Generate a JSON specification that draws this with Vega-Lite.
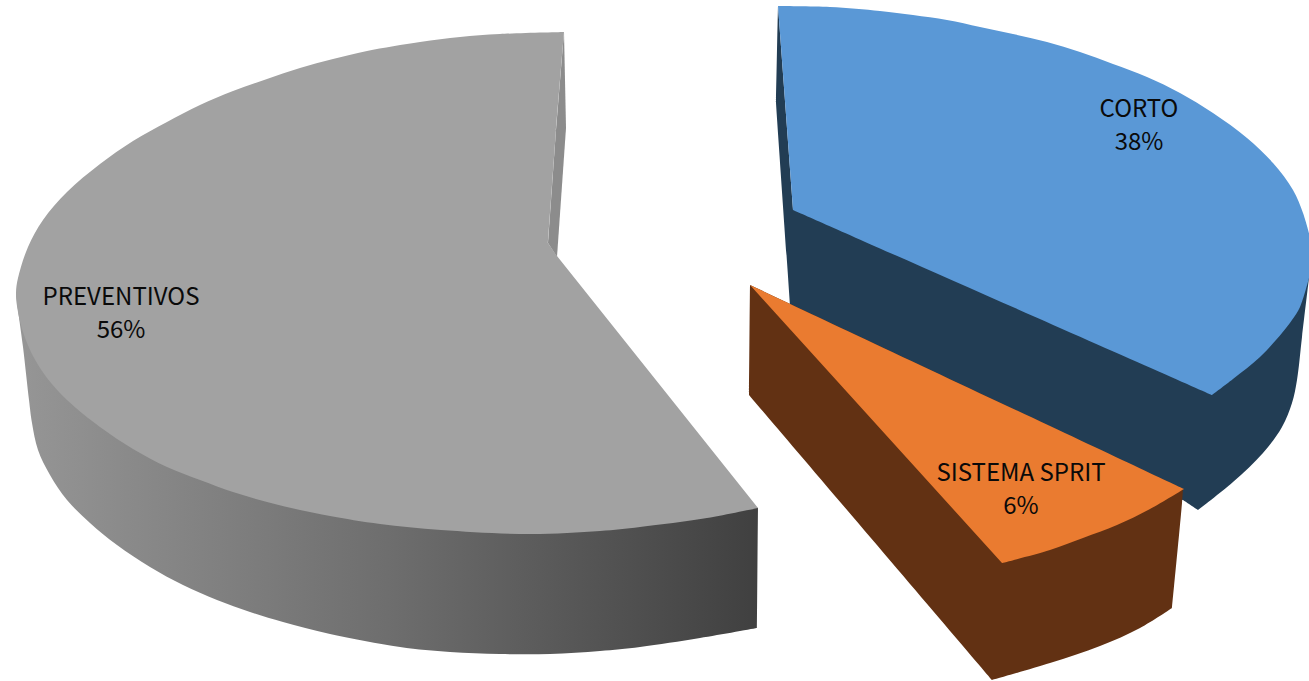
{"$schema":"https://vega.github.io/schema/vega-lite/v6.json","width":1309,"height":681,"padding":0,"autosize":{"type":"fit","contains":"padding"},"background":"white","view":{"stroke":null},
"datasets":{
"outline":[
{"part":"preventivos-side","i":1,"x":16,"y":293},{"part":"preventivos-side","i":2,"x":18,"y":310},{"part":"preventivos-side","i":3,"x":23,"y":347},{"part":"preventivos-side","i":4,"x":29,"y":400},{"part":"preventivos-side","i":5,"x":32,"y":423},{"part":"preventivos-side","i":6,"x":38,"y":450},{"part":"preventivos-side","i":7,"x":50,"y":475},{"part":"preventivos-side","i":8,"x":67,"y":500},{"part":"preventivos-side","i":9,"x":90,"y":523},{"part":"preventivos-side","i":10,"x":117,"y":545},{"part":"preventivos-side","i":11,"x":150,"y":567},{"part":"preventivos-side","i":12,"x":183,"y":585},{"part":"preventivos-side","i":13,"x":217,"y":600},{"part":"preventivos-side","i":14,"x":250,"y":612},{"part":"preventivos-side","i":15,"x":283,"y":622},{"part":"preventivos-side","i":16,"x":330,"y":634},{"part":"preventivos-side","i":17,"x":400,"y":647},{"part":"preventivos-side","i":18,"x":450,"y":652},{"part":"preventivos-side","i":19,"x":500,"y":654},{"part":"preventivos-side","i":20,"x":550,"y":654},{"part":"preventivos-side","i":21,"x":600,"y":651},{"part":"preventivos-side","i":22,"x":640,"y":647},{"part":"preventivos-side","i":23,"x":700,"y":638},{"part":"preventivos-side","i":24,"x":757,"y":628},{"part":"preventivos-side","i":24.5,"x":757,"y":628},{"part":"preventivos-side","i":25,"x":758,"y":508},{"part":"preventivos-side","i":25.5,"x":758,"y":508},{"part":"preventivos-side","i":26,"x":500,"y":400},
{"part":"preventivos-inner","i":1,"x":564,"y":32},{"part":"preventivos-inner","i":2,"x":566,"y":128},{"part":"preventivos-inner","i":3,"x":557,"y":257},{"part":"preventivos-inner","i":4,"x":548,"y":243},{"part":"preventivos-inner","i":5,"x":556,"y":130},
{"part":"preventivos-top","i":1,"x":557,"y":256},{"part":"preventivos-top","i":2,"x":548,"y":243},{"part":"preventivos-top","i":2.5,"x":548,"y":243},{"part":"preventivos-top","i":3,"x":556,"y":130},{"part":"preventivos-top","i":3.5,"x":556,"y":130},{"part":"preventivos-top","i":4,"x":564,"y":32},{"part":"preventivos-top","i":4.5,"x":564,"y":32},{"part":"preventivos-top","i":5,"x":500,"y":34},{"part":"preventivos-top","i":6,"x":460,"y":37},{"part":"preventivos-top","i":7,"x":420,"y":42},{"part":"preventivos-top","i":8,"x":367,"y":51},{"part":"preventivos-top","i":9,"x":333,"y":59},{"part":"preventivos-top","i":10,"x":300,"y":68},{"part":"preventivos-top","i":11,"x":267,"y":79},{"part":"preventivos-top","i":12,"x":233,"y":91},{"part":"preventivos-top","i":13,"x":200,"y":105},{"part":"preventivos-top","i":14,"x":167,"y":122},{"part":"preventivos-top","i":15,"x":133,"y":141},{"part":"preventivos-top","i":16,"x":100,"y":164},{"part":"preventivos-top","i":17,"x":67,"y":192},{"part":"preventivos-top","i":18,"x":43,"y":220},{"part":"preventivos-top","i":19,"x":28,"y":247},{"part":"preventivos-top","i":20,"x":18,"y":278},{"part":"preventivos-top","i":21,"x":16,"y":293},{"part":"preventivos-top","i":22,"x":18,"y":312},{"part":"preventivos-top","i":23,"x":24,"y":335},{"part":"preventivos-top","i":24,"x":33,"y":356},{"part":"preventivos-top","i":25,"x":47,"y":378},{"part":"preventivos-top","i":26,"x":67,"y":400},{"part":"preventivos-top","i":27,"x":100,"y":427},{"part":"preventivos-top","i":28,"x":133,"y":449},{"part":"preventivos-top","i":29,"x":167,"y":467},{"part":"preventivos-top","i":30,"x":200,"y":480},{"part":"preventivos-top","i":31,"x":233,"y":492},{"part":"preventivos-top","i":32,"x":267,"y":502},{"part":"preventivos-top","i":33,"x":300,"y":510},{"part":"preventivos-top","i":34,"x":330,"y":516},{"part":"preventivos-top","i":35,"x":380,"y":524},{"part":"preventivos-top","i":36,"x":441,"y":530},{"part":"preventivos-top","i":37,"x":530,"y":534},{"part":"preventivos-top","i":38,"x":600,"y":531},{"part":"preventivos-top","i":39,"x":640,"y":527},{"part":"preventivos-top","i":40,"x":707,"y":518},{"part":"preventivos-top","i":41,"x":758,"y":508},
{"part":"corto-side","i":1,"x":778,"y":6},{"part":"corto-side","i":2,"x":776,"y":103},{"part":"corto-side","i":2.5,"x":776,"y":103},{"part":"corto-side","i":3,"x":790,"y":305},{"part":"corto-side","i":3.5,"x":790,"y":305},{"part":"corto-side","i":4,"x":1000,"y":420},{"part":"corto-side","i":5,"x":1183,"y":500},{"part":"corto-side","i":5.5,"x":1183,"y":500},{"part":"corto-side","i":6,"x":1198,"y":510},{"part":"corto-side","i":6.5,"x":1198,"y":510},{"part":"corto-side","i":7,"x":1233,"y":482},{"part":"corto-side","i":8,"x":1263,"y":453},{"part":"corto-side","i":9,"x":1282,"y":427},{"part":"corto-side","i":10,"x":1292,"y":403},{"part":"corto-side","i":11,"x":1297,"y":380},{"part":"corto-side","i":12,"x":1302,"y":337},{"part":"corto-side","i":13,"x":1309,"y":278},{"part":"corto-side","i":13.5,"x":1309,"y":278},{"part":"corto-side","i":14,"x":1309,"y":255},{"part":"corto-side","i":14.5,"x":1309,"y":255},{"part":"corto-side","i":15,"x":793,"y":210},
{"part":"corto-top","i":1,"x":778,"y":6},{"part":"corto-top","i":2,"x":830,"y":7},{"part":"corto-top","i":3,"x":880,"y":11},{"part":"corto-top","i":4,"x":913,"y":15},{"part":"corto-top","i":5,"x":947,"y":20},{"part":"corto-top","i":6,"x":980,"y":27},{"part":"corto-top","i":7,"x":1013,"y":34},{"part":"corto-top","i":8,"x":1047,"y":42},{"part":"corto-top","i":9,"x":1080,"y":52},{"part":"corto-top","i":10,"x":1113,"y":64},{"part":"corto-top","i":11,"x":1147,"y":77},{"part":"corto-top","i":12,"x":1180,"y":93},{"part":"corto-top","i":13,"x":1213,"y":113},{"part":"corto-top","i":14,"x":1247,"y":138},{"part":"corto-top","i":15,"x":1273,"y":163},{"part":"corto-top","i":16,"x":1293,"y":190},{"part":"corto-top","i":17,"x":1303,"y":213},{"part":"corto-top","i":18,"x":1309,"y":233},{"part":"corto-top","i":18.5,"x":1309,"y":233},{"part":"corto-top","i":19,"x":1309,"y":278},{"part":"corto-top","i":19.5,"x":1309,"y":278},{"part":"corto-top","i":20,"x":1300,"y":307},{"part":"corto-top","i":21,"x":1292,"y":320},{"part":"corto-top","i":22,"x":1282,"y":333},{"part":"corto-top","i":23,"x":1260,"y":357},{"part":"corto-top","i":24,"x":1233,"y":379},{"part":"corto-top","i":25,"x":1212,"y":395},{"part":"corto-top","i":25.5,"x":1212,"y":395},{"part":"corto-top","i":26,"x":793,"y":210},
{"part":"sprit-side","i":1,"x":750,"y":285},{"part":"sprit-side","i":2,"x":749,"y":395},{"part":"sprit-side","i":2.5,"x":749,"y":395},{"part":"sprit-side","i":3,"x":992,"y":680},{"part":"sprit-side","i":3.5,"x":992,"y":680},{"part":"sprit-side","i":4,"x":1050,"y":663},{"part":"sprit-side","i":5,"x":1100,"y":646},{"part":"sprit-side","i":6,"x":1140,"y":628},{"part":"sprit-side","i":7,"x":1172,"y":608},{"part":"sprit-side","i":7.5,"x":1172,"y":608},{"part":"sprit-side","i":8,"x":1182,"y":503},{"part":"sprit-side","i":9,"x":1183,"y":489},
{"part":"sprit-top","i":1,"x":750,"y":285},{"part":"sprit-top","i":2,"x":1184,"y":489},{"part":"sprit-top","i":2.5,"x":1184,"y":489},{"part":"sprit-top","i":3,"x":1150,"y":509},{"part":"sprit-top","i":4,"x":1117,"y":525},{"part":"sprit-top","i":5,"x":1083,"y":538},{"part":"sprit-top","i":6,"x":1050,"y":550},{"part":"sprit-top","i":7,"x":1002,"y":563}
],
"labels":[
{"label":"PREVENTIVOS\n56%","x":121,"y":298},
{"label":"CORTO\n38%","x":1139,"y":110},
{"label":"SISTEMA SPRIT\n6%","x":1021,"y":474}
]},
"layer":[
{"data":{"name":"outline"},"transform":[{"filter":"datum.part==='preventivos-side'"}],"mark":{"type":"line","interpolate":"catmull-rom","clip":true,"strokeWidth":0,"fill":{"gradient":"linear","x1":0,"y1":0,"x2":1,"y2":0,"stops":[{"offset":0,"color":"#969696"},{"offset":0.5,"color":"#6e6e6e"},{"offset":1,"color":"#404040"}]}},"encoding":{"x":{"field":"x","type":"quantitative","scale":{"domain":[0,1309],"nice":false,"zero":false},"axis":null},"y":{"field":"y","type":"quantitative","scale":{"domain":[681,0],"nice":false,"zero":false},"axis":null},"order":{"field":"i","type":"quantitative"}}},
{"data":{"name":"outline"},"transform":[{"filter":"datum.part==='preventivos-inner'"}],"mark":{"type":"line","clip":true,"strokeWidth":0,"fill":"#8c8c8c"},"encoding":{"x":{"field":"x","type":"quantitative"},"y":{"field":"y","type":"quantitative"},"order":{"field":"i","type":"quantitative"}}},
{"data":{"name":"outline"},"transform":[{"filter":"datum.part==='preventivos-top'"}],"mark":{"type":"line","interpolate":"catmull-rom","clip":true,"strokeWidth":0,"fill":"#a2a2a2"},"encoding":{"x":{"field":"x","type":"quantitative"},"y":{"field":"y","type":"quantitative"},"order":{"field":"i","type":"quantitative"}}},
{"data":{"name":"outline"},"transform":[{"filter":"datum.part==='corto-side'"}],"mark":{"type":"line","interpolate":"catmull-rom","clip":true,"strokeWidth":0,"fill":"#223d54"},"encoding":{"x":{"field":"x","type":"quantitative"},"y":{"field":"y","type":"quantitative"},"order":{"field":"i","type":"quantitative"}}},
{"data":{"name":"outline"},"transform":[{"filter":"datum.part==='corto-top'"}],"mark":{"type":"line","interpolate":"catmull-rom","clip":true,"strokeWidth":0,"fill":"#5a98d6"},"encoding":{"x":{"field":"x","type":"quantitative"},"y":{"field":"y","type":"quantitative"},"order":{"field":"i","type":"quantitative"}}},
{"data":{"name":"outline"},"transform":[{"filter":"datum.part==='sprit-side'"}],"mark":{"type":"line","interpolate":"catmull-rom","clip":true,"strokeWidth":0,"fill":"#623113"},"encoding":{"x":{"field":"x","type":"quantitative"},"y":{"field":"y","type":"quantitative"},"order":{"field":"i","type":"quantitative"}}},
{"data":{"name":"outline"},"transform":[{"filter":"datum.part==='sprit-top'"}],"mark":{"type":"line","interpolate":"catmull-rom","clip":true,"strokeWidth":0,"fill":"#ea7b30"},"encoding":{"x":{"field":"x","type":"quantitative"},"y":{"field":"y","type":"quantitative"},"order":{"field":"i","type":"quantitative"}}},
{"data":{"name":"labels"},"mark":{"type":"text","font":"Noto Sans CJK JP","fontSize":24,"color":"#0a0a0a","lineBreak":"\n","lineHeight":33,"align":"center","baseline":"middle"},"encoding":{"x":{"field":"x","type":"quantitative"},"y":{"field":"y","type":"quantitative"},"text":{"field":"label"}}}
]}
